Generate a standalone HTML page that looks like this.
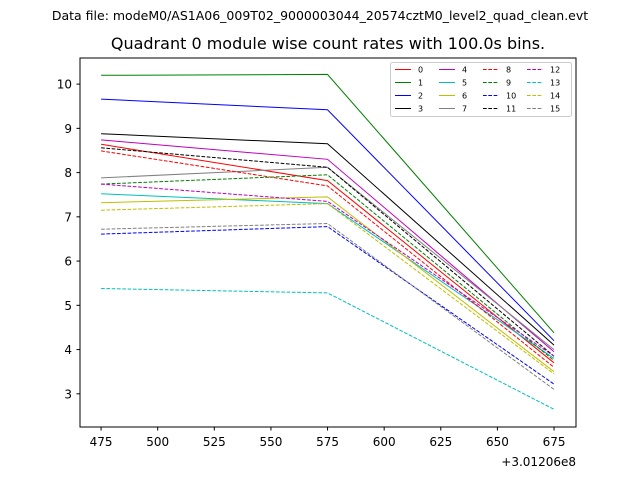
<!DOCTYPE html>
<html><head><meta charset="utf-8"><style>
body{margin:0;background:#fff;font-family:"Liberation Sans","DejaVu Sans",sans-serif}
svg text{font-family:"DejaVu Sans","Liberation Sans",sans-serif}
</style></head><body>
<svg id="chart" width="640" height="480" xmlns="http://www.w3.org/2000/svg">
<rect width="640" height="480" fill="#fff"/>
<text x="320" y="20" font-size="12.5" text-anchor="middle">Data file: modeM0/AS1A06_009T02_9000003044_20574cztM0_level2_quad_clean.evt</text>
<text x="328" y="49" font-size="16" text-anchor="middle">Quadrant 0 module wise count rates with 100.0s bins.</text>
<g id="plot"></g>
<rect x="80" y="58" width="496" height="369" fill="none" stroke="#000" stroke-width="1"/>
<g id="axes"></g>
<text x="576" y="466" font-size="12" text-anchor="end">+3.01206e8</text>
<g id="legend"></g>
</svg>
<script>
const xValues=[475,575,675];
const series0=[8.64,7.82,3.7];
const series1=[10.2,10.22,4.38];
const series2=[9.66,9.42,4.2];
const series3=[8.88,8.65,4.1];
const series4=[8.74,8.3,3.95];
const series5=[7.52,7.3,3.8];
const series6=[7.32,7.45,3.5];
const series7=[7.88,8.12,4.0];
const series8=[8.49,7.7,3.6];
const series9=[7.74,7.95,3.75];
const series10=[6.61,6.78,3.22];
const series11=[8.56,8.12,3.85];
const series12=[7.74,7.35,3.85];
const series13=[5.38,5.28,2.65];
const series14=[7.15,7.3,3.45];
const series15=[6.72,6.85,3.1];
const xTicks=[475,500,525,550,575,600,625,650,675];
const yTicks=[3,4,5,6,7,8,9,10];
const labels=['0','1','2','3','4','5','6','7','8','9','10','11','12','13','14','15'];
const colors=['#ff0000','#008000','#0000ff','#000000','#bf00bf','#00bfbf','#bfbf00','#808080'];
const all=[series0,series1,series2,series3,series4,series5,series6,series7,series8,series9,series10,series11,series12,series13,series14,series15];
const X0=465.7,X1=684.7,Y0=2.25,Y1=10.59;
const px=v=>80+(v-X0)/(X1-X0)*496;
const py=v=>427-(v-Y0)/(Y1-Y0)*369;
const NS='http://www.w3.org/2000/svg';
function mk(t,a,p){const e=document.createElementNS(NS,t);for(const k in a)e.setAttribute(k,a[k]);p.appendChild(e);return e;}
const plot=document.getElementById('plot'),axes=document.getElementById('axes'),leg=document.getElementById('legend');
all.forEach((s,i)=>{
 const pts=s.map((v,j)=>px(xValues[j]).toFixed(1)+','+py(v).toFixed(1)).join(' ');
 const a={points:pts,fill:'none',stroke:colors[i%8],'stroke-width':1};
 if(i>=8)a['stroke-dasharray']='3.7,1.6';
 const l=mk('polyline',a,plot);
 
 
});
xTicks.forEach(t=>{
 const x=px(t);
 const tk=mk('line',{x1:x,x2:x,y1:427,y2:430.5,stroke:'#000'},axes);
 
 
 const tx=mk('text',{x:x,y:446,'font-size':12,'text-anchor':'middle'},axes);tx.textContent=t;
 
 
});
yTicks.forEach(t=>{
 const y=py(t);
 const tk=mk('line',{x1:76.5,x2:80,y1:y,y2:y,stroke:'#000'},axes);
 
 
 const tx=mk('text',{x:72,y:y+4.5,'font-size':12,'text-anchor':'end'},axes);tx.textContent=t;
 
 
});
const box=mk('rect',{x:390.5,y:62.5,width:181,height:54,rx:2,fill:'#fff',stroke:'#ccc','fill-opacity':0.8},leg);


labels.forEach((lb,i)=>{
 const col=Math.floor(i/4),row=i%4;
 const x=395+col*44,y=69.5+row*13;
 const a={x1:x,x2:x+16,y1:y,y2:y,stroke:colors[i%8],'stroke-width':1};
 if(i>=8)a['stroke-dasharray']='3.7,1.6';
 const l=mk('line',a,leg);
 
 
 const t=mk('text',{x:x+23,y:y+3,'font-size':8},leg);t.textContent=lb;
 
 
});
</script>
</body></html>
